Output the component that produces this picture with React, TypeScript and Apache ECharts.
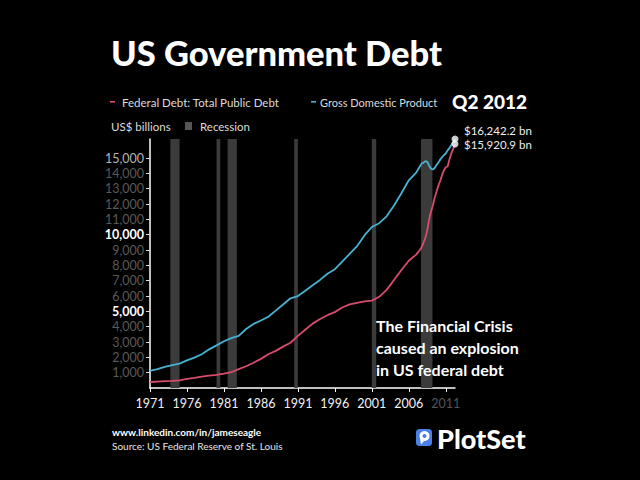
import React, { useEffect, useRef } from "react";
import * as echarts from "echarts";

const START_YEAR = 1971;

// decimal years: annual to 2006, quarterly from 2007
const periods = [
  1971, 1972, 1973, 1974, 1975, 1976, 1977, 1978, 1979, 1980, 1981, 1982, 1983, 1984, 1985, 1986, 1987, 1988,
  1989, 1990, 1991, 1992, 1993, 1994, 1995, 1996, 1997, 1998, 1999, 2000, 2001, 2002, 2003, 2004, 2005, 2006,
  2007, 2007.25, 2007.5, 2007.75, 2008, 2008.25, 2008.5, 2008.75, 2009, 2009.25, 2009.5, 2009.75,
  2010, 2010.25, 2010.5, 2010.75, 2011, 2011.25, 2011.5, 2011.75, 2012, 2012.25,
];

const federalDebt = [
  390, 420, 450, 470, 500, 590, 660, 740, 810, 860, 940, 1030, 1230, 1420, 1650, 1900, 2200, 2420,
  2700, 2950, 3400, 3800, 4200, 4500, 4750, 4950, 5250, 5450, 5550, 5650, 5700, 5950, 6400, 7050, 7700, 8300,
  8700, 8850, 9000, 9200, 9500, 9800, 10300, 11000, 11500, 11900, 12400, 12800,
  13200, 13500, 13900, 14200, 14400, 14450, 14900, 15300, 15600, 15920.9,
];

const gdp = [
  1120, 1230, 1380, 1490, 1590, 1800, 1980, 2200, 2520, 2780, 3050, 3250, 3400, 3850, 4180, 4400, 4650, 5050,
  5450, 5850, 6000, 6350, 6700, 7050, 7450, 7750, 8250, 8750, 9250, 9950, 10500, 10750, 11200, 11900, 12700, 13550,
  14050, 14250, 14450, 14650, 14700, 14800, 14750, 14500, 14300, 14250, 14350, 14550,
  14700, 14900, 15050, 15200, 15300, 15500, 15650, 15850, 16050, 16242.2,
];

const recessions = [
  [1973.75, 1975.0],
  [1980.0, 1980.5],
  [1981.5, 1982.75],
  [1990.5, 1991.0],
  [2001.0, 2001.6],
  [2007.65, 2009.2],
];

const xTickYears = [1971, 1976, 1981, 1986, 1991, 1996, 2001, 2006, 2011];
const yTicks = [1000, 2000, 3000, 4000, 5000, 6000, 7000, 8000, 9000, 10000, 11000, 12000, 13000, 14000, 15000];
const yHighlight = [5000, 10000];
const yLight = [15000];
const xDim = [2011];

const RED = "#d94c6c";
const BLUE = "#47b2d3";
const FONT = "Lato, 'Open Sans', sans-serif";

const fmtNum = (v: number) => v.toLocaleString("en-US");
const fmtBn = (v: number) =>
  "$" + v.toLocaleString("en-US", { minimumFractionDigits: 1, maximumFractionDigits: 1 }) + " bn";

export default function App() {
  const ref = useRef<HTMLDivElement>(null);

  useEffect(() => {
    document.body.style.margin = "0";
    document.body.style.background = "#000";
    if (!ref.current) return;
    const chart = echarts.init(ref.current, undefined, { renderer: "svg" });

    const toX = (y: number) => y - START_YEAR;
    const debtData = periods.map((p, i) => [toX(p), federalDebt[i]]);
    const gdpData = periods.map((p, i) => [toX(p), gdp[i]]);
    const last = periods.length - 1;
    const xMax = toX(periods[last]);
    const yMax = Math.max(gdp[last], federalDebt[last]);

    const option: any = {
      animation: false,
      backgroundColor: "#000",
      textStyle: { fontFamily: FONT },
      grid: { left: 150, right: 185, top: 139, bottom: 92 },
      xAxis: {
        type: "value",
        min: 0,
        max: xMax,
        axisLine: { show: true, lineStyle: { color: "#fff", width: 1.5 } },
        axisTick: {
          show: true,
          length: 4,
          customValues: xTickYears.map(toX),
          lineStyle: { color: "#fff" },
        },
        splitLine: { show: false },
        axisLabel: {
          customValues: xTickYears.map(toX),
          margin: 9,
          fontSize: 12,
          fontFamily: FONT,
          formatter: (v: number) => {
            const yr = Math.round(v + START_YEAR);
            return xDim.includes(yr) ? `{d|${yr}}` : `{w|${yr}}`;
          },
          rich: {
            w: { color: "#f2f2f2", fontSize: 12.5, fontFamily: FONT },
            d: { color: "#555", fontSize: 12.5, fontFamily: FONT },
          },
        },
      },
      yAxis: {
        type: "value",
        min: 0,
        max: yMax,
        axisLine: { show: true, lineStyle: { color: "#fff", width: 1.5 } },
        axisTick: { show: true, length: 4, customValues: yTicks, lineStyle: { color: "#ddd" } },
        splitLine: { show: false },
        axisLabel: {
          customValues: yTicks,
          margin: 6,
          fontSize: 12,
          fontFamily: FONT,
          formatter: (v: number) => {
            const s = fmtNum(v);
            if (yHighlight.includes(v)) return `{w|${s}}`;
            if (yLight.includes(v)) return `{l|${s}}`;
            return `{g|${s}}`;
          },
          rich: {
            w: { color: "#ffffff", fontSize: 12.5, fontFamily: FONT, fontWeight: "bold" },
            l: { color: "#b5b5b5", fontSize: 12.5, fontFamily: FONT },
            g: { color: "#5a5a5a", fontSize: 12.5, fontFamily: FONT },
          },
        },
      },
      series: [
        {
          name: "Recession",
          type: "line",
          data: [],
          z: 0,
          silent: true,
          markArea: {
            silent: true,
            itemStyle: { color: "#3b3b3b" },
            data: recessions.map(([a, b]) => [{ xAxis: toX(a) }, { xAxis: toX(b) }]),
          },
        },
        {
          name: "Federal Debt: Total Public Debt",
          type: "line",
          data: debtData,
          showSymbol: false,
          z: 3,
          lineStyle: { color: RED, width: 1.8 },
          itemStyle: { color: RED },
        },
        {
          name: "Gross Domestic Product",
          type: "line",
          data: gdpData,
          showSymbol: false,
          z: 3,
          lineStyle: { color: BLUE, width: 1.8 },
          itemStyle: { color: BLUE },
        },
        {
          name: "ends",
          type: "scatter",
          z: 5,
          symbolSize: 7,
          itemStyle: { color: "#fff" },
          data: [
            [xMax, gdp[last]],
            [xMax, federalDebt[last]],
          ],
        },
      ],
      graphic: [
        {
          type: "text",
          left: 111,
          top: 35,
          z: 100,
          style: { text: "US Government Debt", fill: "#fff", font: `900 34.5px ${FONT}` },
        },
        { type: "rect", z: 100, shape: { x: 110, y: 101, width: 5, height: 1.6 }, style: { fill: RED } },
        {
          type: "text",
          x: 122,
          y: 102,
          z: 100,
          style: {
            text: "Federal Debt: Total Public Debt",
            fill: "#dcdcdc",
            font: `11.5px ${FONT}`,
            verticalAlign: "middle",
          },
        },
        { type: "rect", z: 100, shape: { x: 311, y: 101, width: 5, height: 1.6 }, style: { fill: BLUE } },
        {
          type: "text",
          x: 320,
          y: 102,
          z: 100,
          style: {
            text: "Gross Domestic Product",
            fill: "#dcdcdc",
            font: `11px ${FONT}`,
            verticalAlign: "middle",
          },
        },
        {
          type: "text",
          x: 527,
          y: 101,
          z: 100,
          style: {
            text: "Q2 2012",
            fill: "#fff",
            font: `900 19px ${FONT}`,
            align: "right",
            verticalAlign: "middle",
          },
        },
        {
          type: "text",
          x: 111,
          y: 126,
          z: 100,
          style: { text: "US$ billions", fill: "#dcdcdc", font: `11.5px ${FONT}`, verticalAlign: "middle" },
        },
        { type: "rect", z: 100, shape: { x: 185, y: 122, width: 7, height: 8 }, style: { fill: "#555" } },
        {
          type: "text",
          x: 200,
          y: 126,
          z: 100,
          style: { text: "Recession", fill: "#dcdcdc", font: `11.5px ${FONT}`, verticalAlign: "middle" },
        },
        {
          type: "text",
          x: 464,
          y: 130,
          z: 100,
          style: { text: fmtBn(gdp[last]), fill: "#eee", font: `11.5px ${FONT}`, verticalAlign: "middle" },
        },
        {
          type: "text",
          x: 464,
          y: 144,
          z: 100,
          style: {
            text: fmtBn(federalDebt[last]),
            fill: "#eee",
            font: `11.5px ${FONT}`,
            verticalAlign: "middle",
          },
        },
        {
          type: "text",
          x: 376,
          y: 314,
          z: 100,
          style: {
            text: "The Financial Crisis\ncaused an explosion\nin US federal debt",
            fill: "#fff",
            font: `bold 16px ${FONT}`,
            lineHeight: 22,
          },
        },
        {
          type: "text",
          x: 112,
          y: 432,
          z: 100,
          style: {
            text: "www.linkedin.com/in/jameseagle",
            fill: "#fff",
            font: `bold 10px ${FONT}`,
            verticalAlign: "middle",
          },
        },
        {
          type: "text",
          x: 112,
          y: 446,
          z: 100,
          style: {
            text: "Source: US Federal Reserve of St. Louis",
            fill: "#e6e6e6",
            font: `10px ${FONT}`,
            verticalAlign: "middle",
          },
        },
        {
          type: "group",
          z: 100,
          children: [
            { type: "rect", shape: { x: 416, y: 429, width: 16, height: 17, r: 3.5 }, style: { fill: "#4a80e8" } },
            { type: "circle", shape: { cx: 424.5, cy: 436, r: 5 }, style: { fill: "#fff" } },
            {
              type: "polygon",
              shape: { points: [[420, 438], [424, 441], [421, 444.5]] },
              style: { fill: "#fff" },
            },
            { type: "circle", shape: { cx: 424.5, cy: 436, r: 2 }, style: { fill: "#4a80e8" } },
          ],
        },
        {
          type: "text",
          x: 437,
          y: 438,
          z: 100,
          style: { text: "PlotSet", fill: "#fff", font: `900 27px ${FONT}`, verticalAlign: "middle" },
        },
      ],
    };

    chart.setOption(option);
    return () => chart.dispose();
  }, []);

  return <div ref={ref} style={{ width: 640, height: 480, background: "#000" }} />;
}
